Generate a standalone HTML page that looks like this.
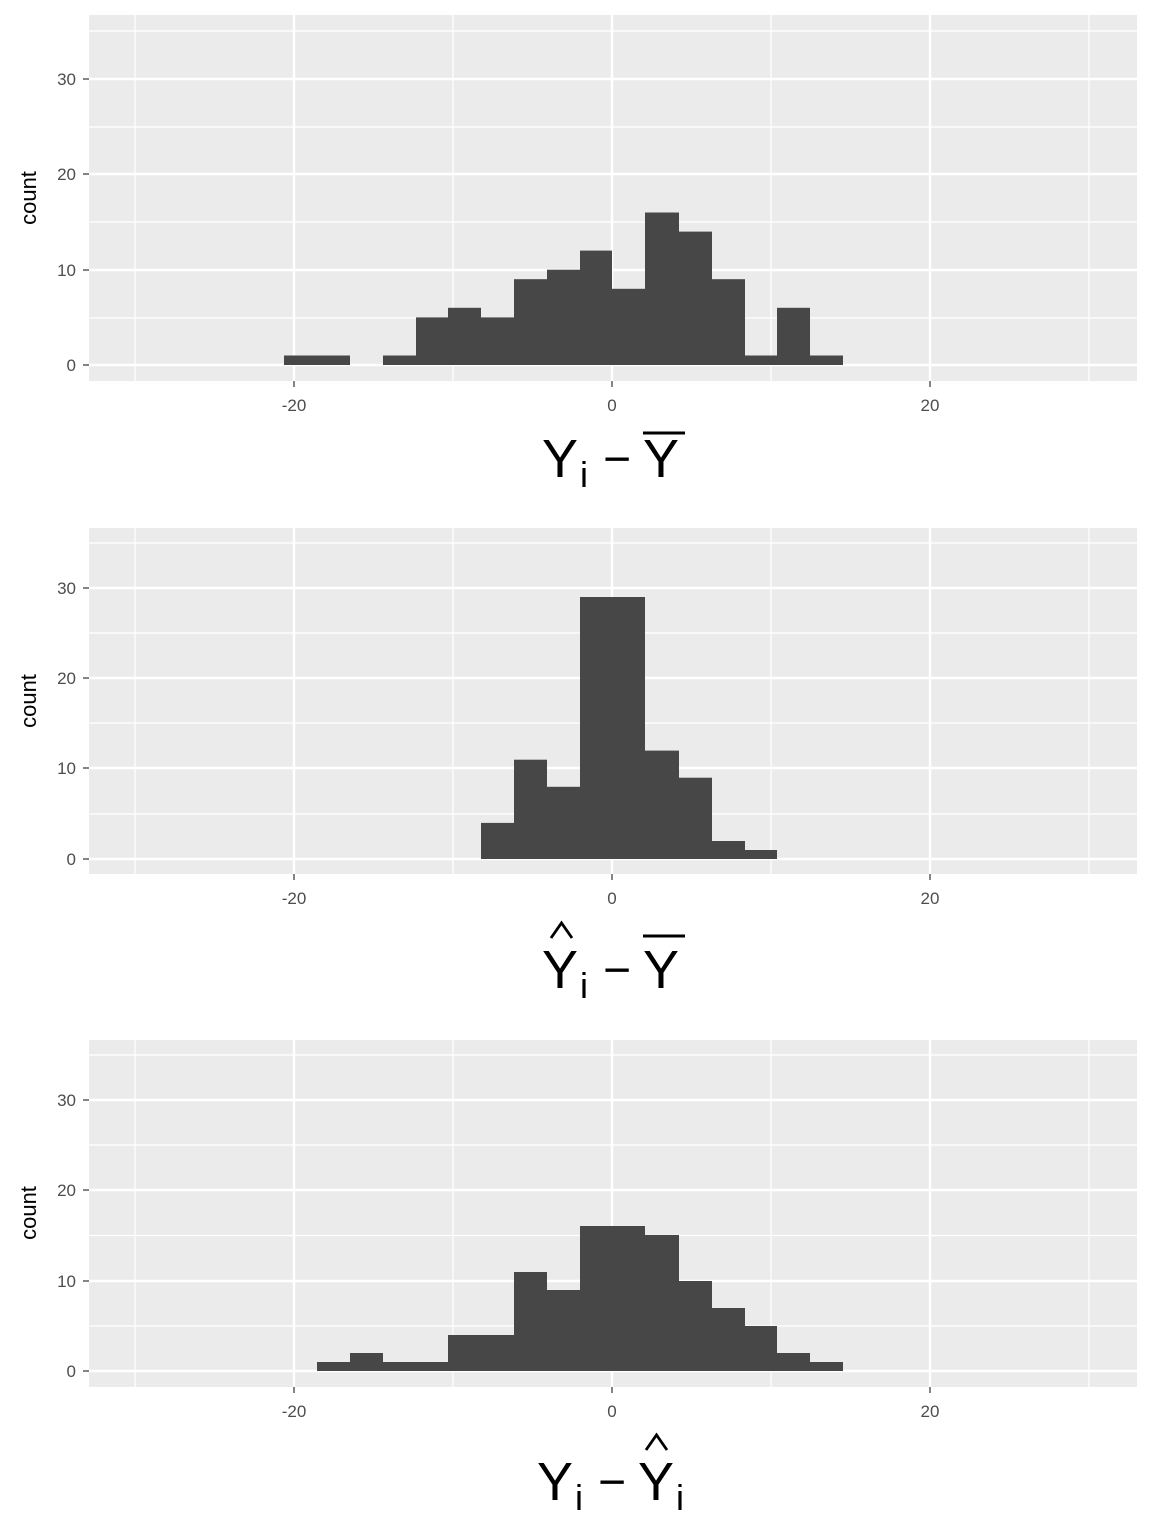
<!DOCTYPE html>
<html><head><meta charset="utf-8"><style>body{margin:0;background:#fff}svg{display:block}</style></head><body>
<svg width="1152" height="1536" xmlns="http://www.w3.org/2000/svg" font-family="Liberation Sans, Arial, sans-serif">
<g id="p1">
<rect x="89" y="15" width="1048" height="366" fill="#ebebeb"/>
<g stroke="#fff" stroke-width="1.2"><line x1="135" x2="135" y1="15" y2="381"/><line x1="453" x2="453" y1="15" y2="381"/><line x1="771" x2="771" y1="15" y2="381"/><line x1="1089" x2="1089" y1="15" y2="381"/>
<line x1="89" x2="1137" y1="318" y2="318"/><line x1="89" x2="1137" y1="222" y2="222"/><line x1="89" x2="1137" y1="127" y2="127"/><line x1="89" x2="1137" y1="31" y2="31"/></g>
<g stroke="#fff" stroke-width="2.4"><line x1="294" x2="294" y1="15" y2="381"/><line x1="612" x2="612" y1="15" y2="381"/><line x1="930" x2="930" y1="15" y2="381"/>
<line x1="89" x2="1137" y1="365" y2="365"/><line x1="89" x2="1137" y1="270" y2="270"/><line x1="89" x2="1137" y1="174" y2="174"/><line x1="89" x2="1137" y1="79" y2="79"/></g>
<g fill="#474747">
<rect x="284" y="355.5" width="66" height="9.5"/><rect x="383" y="355.5" width="33" height="9.5"/>
<rect x="416" y="317.4" width="32" height="47.6"/><rect x="448" y="307.8" width="33" height="57.2"/><rect x="481" y="317.4" width="33" height="47.6"/>
<rect x="514" y="279.2" width="33" height="85.8"/><rect x="547" y="269.7" width="33" height="95.3"/><rect x="580" y="250.6" width="32" height="114.4"/>
<rect x="612" y="288.8" width="33" height="76.2"/><rect x="645" y="212.5" width="34" height="152.5"/><rect x="679" y="231.6" width="33" height="133.4"/>
<rect x="712" y="279.2" width="33" height="85.8"/><rect x="745" y="355.5" width="32" height="9.5"/><rect x="777" y="307.8" width="33" height="57.2"/><rect x="810" y="355.5" width="33" height="9.5"/>
</g>
<g stroke="#333" stroke-width="1.2"><line x1="83" x2="89" y1="365" y2="365"/><line x1="83" x2="89" y1="270" y2="270"/><line x1="83" x2="89" y1="174" y2="174"/><line x1="83" x2="89" y1="79" y2="79"/>
<line x1="294" x2="294" y1="381" y2="387"/><line x1="612" x2="612" y1="381" y2="387"/><line x1="930" x2="930" y1="381" y2="387"/></g>
<g fill="#4d4d4d" font-size="17" text-anchor="end"><text x="76" y="371">0</text><text x="76" y="276">10</text><text x="76" y="180">20</text><text x="76" y="85">30</text></g>
<g fill="#4d4d4d" font-size="17" text-anchor="middle"><text x="294" y="411">-20</text><text x="612" y="411">0</text><text x="930" y="411">20</text></g>
<text transform="translate(36,198) rotate(-90)" font-size="22" text-anchor="middle">count</text>
<text x="542" y="477" font-size="54">Y</text><text x="580" y="487" font-size="36">i</text><text x="603" y="475" font-size="48">−</text><text x="643" y="477" font-size="54">Y</text>
<line x1="643" x2="685" y1="433" y2="433" stroke="#000" stroke-width="3"/>
</g>
<g id="p2">
<rect x="89" y="528" width="1048" height="346" fill="#ebebeb"/>
<g stroke="#fff" stroke-width="1.2"><line x1="135" x2="135" y1="528" y2="874"/><line x1="453" x2="453" y1="528" y2="874"/><line x1="771" x2="771" y1="528" y2="874"/><line x1="1089" x2="1089" y1="528" y2="874"/>
<line x1="89" x2="1137" y1="814" y2="814"/><line x1="89" x2="1137" y1="723" y2="723"/><line x1="89" x2="1137" y1="633" y2="633"/><line x1="89" x2="1137" y1="543" y2="543"/></g>
<g stroke="#fff" stroke-width="2.4"><line x1="294" x2="294" y1="528" y2="874"/><line x1="612" x2="612" y1="528" y2="874"/><line x1="930" x2="930" y1="528" y2="874"/>
<line x1="89" x2="1137" y1="859" y2="859"/><line x1="89" x2="1137" y1="768" y2="768"/><line x1="89" x2="1137" y1="678" y2="678"/><line x1="89" x2="1137" y1="588" y2="588"/></g>
<g fill="#474747">
<rect x="481" y="822.9" width="33" height="36.1"/><rect x="514" y="759.7" width="33" height="99.3"/><rect x="547" y="786.8" width="33" height="72.2"/>
<rect x="580" y="597" width="65" height="262"/><rect x="645" y="750.6" width="34" height="108.4"/><rect x="679" y="777.7" width="33" height="81.3"/>
<rect x="712" y="841" width="33" height="18"/><rect x="745" y="850" width="32" height="9"/>
</g>
<g stroke="#333" stroke-width="1.2"><line x1="83" x2="89" y1="859" y2="859"/><line x1="83" x2="89" y1="768" y2="768"/><line x1="83" x2="89" y1="678" y2="678"/><line x1="83" x2="89" y1="588" y2="588"/>
<line x1="294" x2="294" y1="874" y2="880"/><line x1="612" x2="612" y1="874" y2="880"/><line x1="930" x2="930" y1="874" y2="880"/></g>
<g fill="#4d4d4d" font-size="17" text-anchor="end"><text x="76" y="865">0</text><text x="76" y="774">10</text><text x="76" y="684">20</text><text x="76" y="594">30</text></g>
<g fill="#4d4d4d" font-size="17" text-anchor="middle"><text x="294" y="904">-20</text><text x="612" y="904">0</text><text x="930" y="904">20</text></g>
<text transform="translate(36,701) rotate(-90)" font-size="22" text-anchor="middle">count</text>
<text x="542" y="988" font-size="54">Y</text><text x="580" y="998" font-size="36">i</text><text x="603" y="986" font-size="48">−</text><text x="643" y="988" font-size="54">Y</text>
<polyline points="551,938 561.5,923 572,938" fill="none" stroke="#000" stroke-width="2.8"/>
<line x1="643" x2="685" y1="936" y2="936" stroke="#000" stroke-width="3"/>
</g>
<g id="p3">
<rect x="89" y="1040" width="1048" height="347" fill="#ebebeb"/>
<g stroke="#fff" stroke-width="1.2"><line x1="135" x2="135" y1="1040" y2="1387"/><line x1="453" x2="453" y1="1040" y2="1387"/><line x1="771" x2="771" y1="1040" y2="1387"/><line x1="1089" x2="1089" y1="1040" y2="1387"/>
<line x1="89" x2="1137" y1="1326" y2="1326"/><line x1="89" x2="1137" y1="1235.5" y2="1235.5"/><line x1="89" x2="1137" y1="1145" y2="1145"/><line x1="89" x2="1137" y1="1055" y2="1055"/></g>
<g stroke="#fff" stroke-width="2.4"><line x1="294" x2="294" y1="1040" y2="1387"/><line x1="612" x2="612" y1="1040" y2="1387"/><line x1="930" x2="930" y1="1040" y2="1387"/>
<line x1="89" x2="1137" y1="1371" y2="1371"/><line x1="89" x2="1137" y1="1281" y2="1281"/><line x1="89" x2="1137" y1="1190" y2="1190"/><line x1="89" x2="1137" y1="1100" y2="1100"/></g>
<g fill="#474747">
<rect x="317" y="1362" width="33" height="9"/><rect x="350" y="1353" width="33" height="18"/><rect x="383" y="1362" width="65" height="9"/>
<rect x="448" y="1335" width="66" height="36"/><rect x="514" y="1272" width="33" height="99"/><rect x="547" y="1290" width="33" height="81"/>
<rect x="580" y="1226" width="65" height="145"/><rect x="645" y="1235" width="34" height="136"/><rect x="679" y="1281" width="33" height="90"/>
<rect x="712" y="1308" width="33" height="63"/><rect x="745" y="1326" width="32" height="45"/><rect x="777" y="1353" width="33" height="18"/><rect x="810" y="1362" width="33" height="9"/>
</g>
<g stroke="#333" stroke-width="1.2"><line x1="83" x2="89" y1="1371" y2="1371"/><line x1="83" x2="89" y1="1281" y2="1281"/><line x1="83" x2="89" y1="1190" y2="1190"/><line x1="83" x2="89" y1="1100" y2="1100"/>
<line x1="294" x2="294" y1="1387" y2="1393"/><line x1="612" x2="612" y1="1387" y2="1393"/><line x1="930" x2="930" y1="1387" y2="1393"/></g>
<g fill="#4d4d4d" font-size="17" text-anchor="end"><text x="76" y="1377">0</text><text x="76" y="1287">10</text><text x="76" y="1196">20</text><text x="76" y="1106">30</text></g>
<g fill="#4d4d4d" font-size="17" text-anchor="middle"><text x="294" y="1417">-20</text><text x="612" y="1417">0</text><text x="930" y="1417">20</text></g>
<text transform="translate(36,1213) rotate(-90)" font-size="22" text-anchor="middle">count</text>
<text x="537" y="1500" font-size="54">Y</text><text x="575" y="1510" font-size="36">i</text><text x="598" y="1498" font-size="48">−</text><text x="638" y="1500" font-size="54">Y</text><text x="676" y="1510" font-size="36">i</text>
<polyline points="646,1450 656.5,1435 667,1450" fill="none" stroke="#000" stroke-width="2.8"/>
</g>
</svg>
</body></html>
